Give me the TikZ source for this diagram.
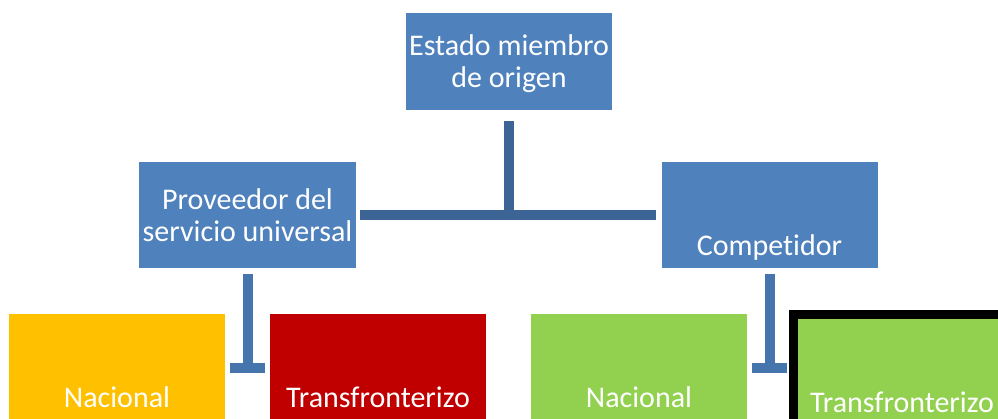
\documentclass[tikz,border=0pt]{standalone}
\usepackage{fontspec}
\setmainfont{Carlito}[Ligatures=NoCommon]
\usetikzlibrary{arrows.meta}

\definecolor{azul}{HTML}{4F81BD}
\definecolor{azuloscuro}{HTML}{3C6595}
\definecolor{azultallo}{HTML}{4674AC}
\definecolor{amarillo}{HTML}{FFC000}
\definecolor{rojo}{HTML}{C00000}
\definecolor{verde}{HTML}{92D050}

\tikzset{
  caja/.style={rectangle,fill=#1,text=white,inner sep=2pt,
    minimum width=216pt,minimum height=106pt,align=center,
    font=\fontsize{30}{32}\selectfont},
  caja/.default=azul,
  bajo/.style={text height=91pt,text depth=11pt},
  conector/.style={draw=azuloscuro,line width=10pt},
  tallo/.style={draw=azultallo,line width=10pt,-{Bar[width=35pt]}}
}

\begin{document}
\begin{tikzpicture}[x=1pt,y=-1pt]
   \clip (0,0) rectangle (998,418);
   % top of the tree
   \node [caja,minimum width=206pt,minimum height=97pt,text depth=0pt] (origen)
   at (509,61.5) {Estado miembro\\de origen};
   % second level
   \node [caja,minimum width=217pt] (proveedor) at (247.5,215)
   {Proveedor del\\servicio universal};
   \node [caja,bajo] (competidor) at (769.5,215) {Competidor};
   % bottom row
   \node [caja=amarillo,bajo] (nacionalA) at (117,367) {Nacional};
   \node [caja=rojo,bajo] (transfA) at (378,367) {Transfronterizo};
   \node [caja=verde,bajo] (nacionalB) at (639,367) {Nacional};
   \node [caja=verde,bajo,draw=black,line width=9pt,text height=96pt,
     minimum width=217pt] (transfB) at (902,369.5) {Transfronterizo};
   % connectors between the levels
   \draw [conector] ([yshift=-11pt]origen.south) -- (origen.south |- proveedor.east);
   \draw [conector] ([xshift=4pt]proveedor.east) -- ([xshift=-5pt]competidor.west);
   % free ends of the stubs
   \coordinate (finA) at (247.5,373);
   \coordinate (finB) at (769.5,373);
   \draw [tallo] ([yshift=-6pt]proveedor.south) -- (finA);
   \draw [tallo] ([yshift=-6pt]competidor.south) -- (finB);
\end{tikzpicture}
\end{document}
